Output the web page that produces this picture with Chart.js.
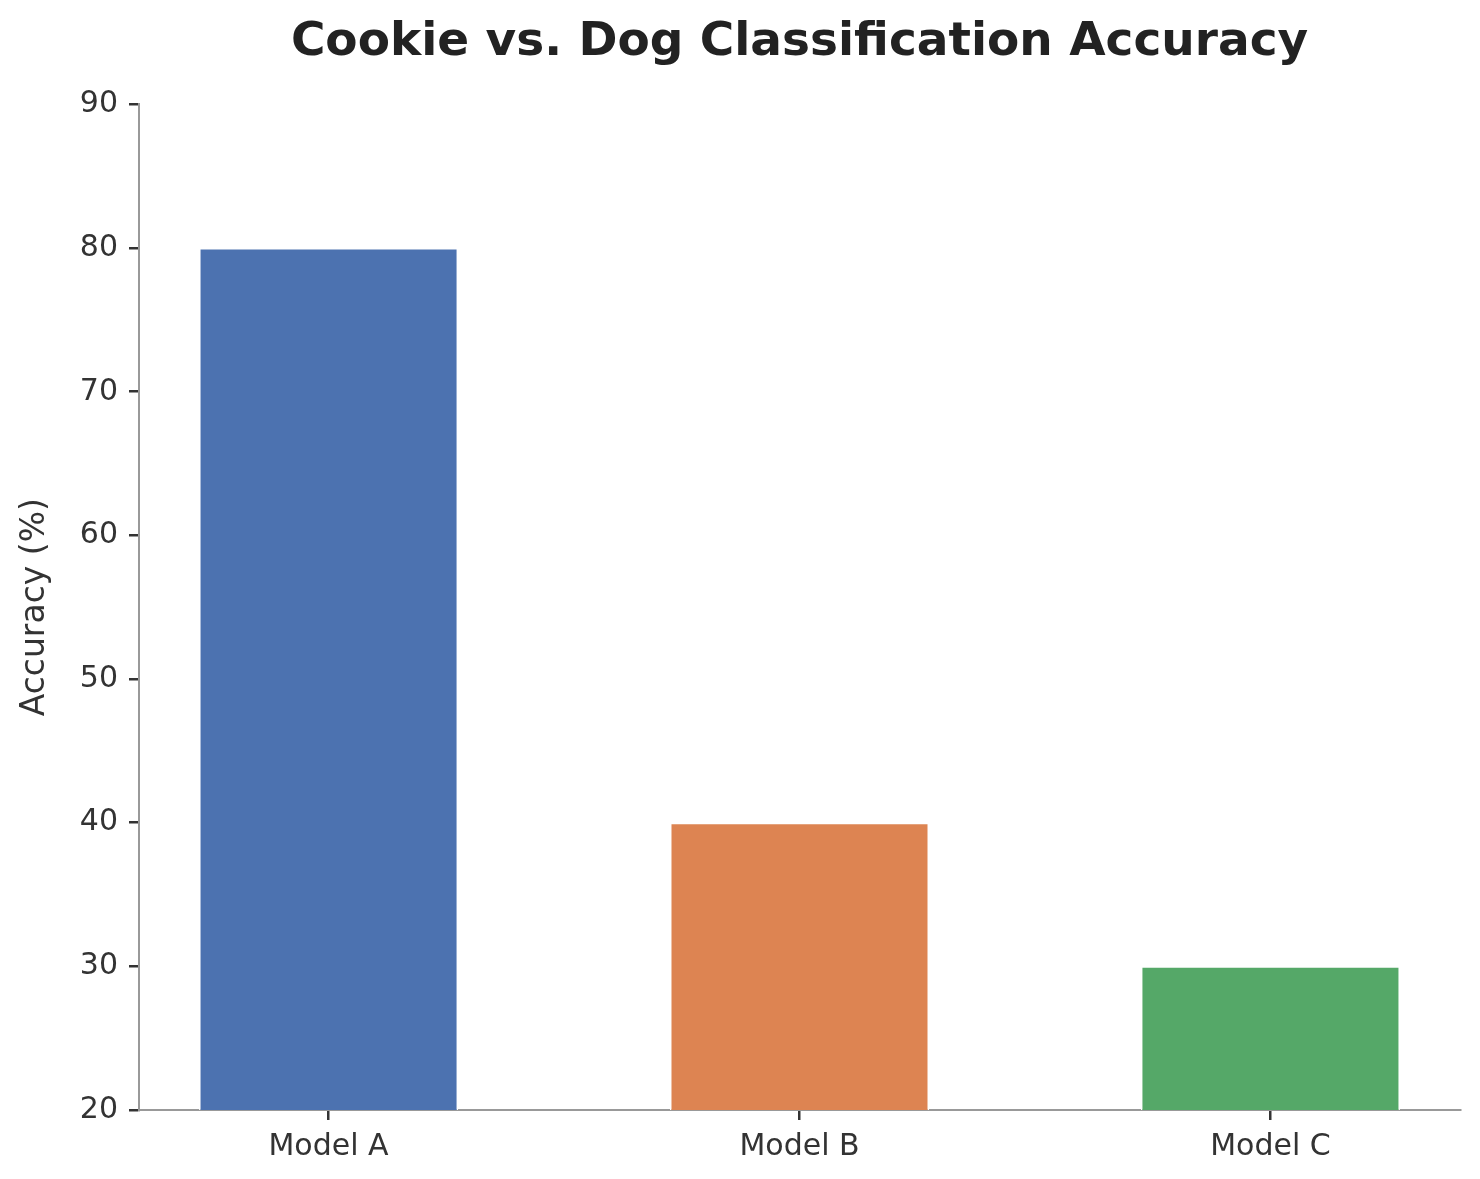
<!DOCTYPE html>
<html>
<head>
<meta charset="utf-8">
<script src="https://cdn.jsdelivr.net/npm/chart.js@4.4.0/dist/chart.umd.min.js"></script>
<style>
  html, body { margin: 0; padding: 0; background: #ffffff; }
  #wrap { width: 1480px; height: 1179px; }
</style>
</head>
<body>
<div id="wrap"><canvas id="c" width="1480" height="1179"></canvas></div>
<script>
const categories = ["Model A", "Model B", "Model C"];
const accuracy = [80, 40, 30];
const barColors = ["#4C72B0", "#DD8452", "#55A868"];
const yTicks = [20, 30, 40, 50, 60, 70, 80, 90];
const chartTitle = "Cookie vs. Dog Classification Accuracy";
const yTitle = "Accuracy (%)";

const FONT = "'DejaVu Sans', 'Liberation Sans', sans-serif";
const points = categories.map((c, i) => ({ x: i, y: accuracy[i] }));

new Chart(document.getElementById('c'), {
  type: 'bar',
  data: {
    datasets: [{
      data: points,
      backgroundColor: barColors,
      borderColor: '#ffffff',
      borderWidth: 1.5,
      borderSkipped: false,
      categoryPercentage: 1,
      barPercentage: 0.55
    }]
  },
  options: {
    responsive: false,
    animation: false,
    devicePixelRatio: 1,
    layout: { padding: { left: 0, right: 20, top: 0, bottom: 0 } },
    plugins: {
      legend: { display: false },
      tooltip: { enabled: false },
      title: {
        display: true,
        fullSize: false,
        text: chartTitle,
        color: '#222222',
        font: { family: FONT, size: 47, weight: 'bold' },
        padding: { top: 15, bottom: 33 }
      }
    },
    scales: {
      x: {
        type: 'linear',
        min: -0.4025,
        max: 2.4025,
        offset: false,
        afterBuildTicks: (scale) => { scale.ticks = categories.map((c, i) => ({ value: i })); },
        afterFit: (scale) => { scale.height = 69; },
        ticks: {
          color: '#333333',
          font: { family: FONT, size: 30 },
          padding: 9,
          maxRotation: 0,
          autoSkip: false,
          callback: (v) => categories[v]
        },
        grid: {
          offset: false,
          drawOnChartArea: false,
          drawTicks: true,
          tickLength: 10,
          tickColor: '#333333',
          tickWidth: 2.5,
          lineWidth: 2.5
        },
        border: { display: true, color: '#999999', width: 2 }
      },
      y: {
        min: 20,
        max: 90,
        afterBuildTicks: (scale) => { scale.ticks = yTicks.map(v => ({ value: v })); },
        afterFit: (scale) => { scale.width = 139; },
        ticks: {
          color: '#333333',
          font: { family: FONT, size: 30 },
          padding: 11
        },
        grid: {
          drawOnChartArea: false,
          drawTicks: true,
          tickLength: 10,
          tickColor: '#333333',
          tickWidth: 2.5,
          lineWidth: 2.5
        },
        border: { display: true, color: '#999999', width: 2 },
        title: {
          display: true,
          text: yTitle,
          color: '#333333',
          font: { family: FONT, size: 33 },
          padding: { top: 16, bottom: 0 }
        }
      }
    }
  }
});
</script>
</body>
</html>
